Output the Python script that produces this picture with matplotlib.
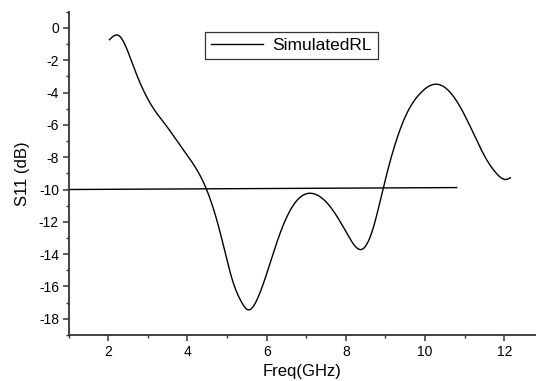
import numpy as np
import matplotlib
matplotlib.use('Agg')
import matplotlib.pyplot as plt
from matplotlib.ticker import MultipleLocator

# values
freq = [2.03, 2.26, 2.64, 3.06, 3.48, 3.9, 4.49, 4.83,
        5.16, 5.35, 5.54, 5.72, 5.92, 6.34, 6.77, 7.17,
        7.61, 8.03, 8.41, 8.7, 8.95, 9.54, 9.88,
        10.26, 10.72, 11.14, 11.56, 11.8, 12.03, 12.15]
s11 = [-0.73, -0.46, -2.4, -4.66, -6.1, -7.56, -10.04, -12.7,
       -15.8, -16.9, -17.45, -17.0, -15.8, -12.7, -10.66, -10.25,
       -11.08, -12.73, -13.7, -12.3, -9.84, -5.28, -4.04,
       -3.48, -4.25, -6.1, -8.18, -9.0, -9.38, -9.28]
ref_x = [1.0, 10.8]
ref_y = [-10.0, -9.88]


def spline(x, y, xs):
    # natural cubic spline through the read points
    x = np.asarray(x, float)
    y = np.asarray(y, float)
    n = len(x)
    h = np.diff(x)
    A = np.zeros((n, n))
    b = np.zeros(n)
    A[0, 0] = A[-1, -1] = 1
    for i in range(1, n - 1):
        A[i, i - 1] = h[i - 1]
        A[i, i] = 2 * (h[i - 1] + h[i])
        A[i, i + 1] = h[i]
        b[i] = 6 * ((y[i + 1] - y[i]) / h[i] - (y[i] - y[i - 1]) / h[i - 1])
    M = np.linalg.solve(A, b)
    idx = np.clip(np.searchsorted(x, xs) - 1, 0, n - 2)
    t0 = x[idx]
    t1 = x[idx + 1]
    hh = t1 - t0
    return (M[idx] * (t1 - xs) ** 3 / (6 * hh) + M[idx + 1] * (xs - t0) ** 3 / (6 * hh)
            + (y[idx] / hh - M[idx] * hh / 6) * (t1 - xs)
            + (y[idx + 1] / hh - M[idx + 1] * hh / 6) * (xs - t0))


plt.rcParams['font.family'] = ['Liberation Sans', 'DejaVu Sans']
plt.rcParams['axes.unicode_minus'] = False

fig = plt.figure(figsize=(5.36, 3.81), dpi=100)
ax = fig.add_axes([0.128, 0.121, 0.872, 0.848])

xs = np.linspace(freq[0], freq[-1], 800)
ax.plot(xs, spline(freq, s11, xs), color='black', lw=1.0, label='SimulatedRL')
ax.plot(ref_x, ref_y, color='black', lw=1.0)

ax.set_xlim(1, 12.8)
ax.set_ylim(-19, 1)
ax.set_xticks([2, 4, 6, 8, 10, 12])
ax.xaxis.set_minor_locator(MultipleLocator(1))
ax.yaxis.set_major_locator(MultipleLocator(2))
ax.yaxis.set_minor_locator(MultipleLocator(1))

for s in ['top', 'right']:
    ax.spines[s].set_visible(False)
for s in ['left', 'bottom']:
    ax.spines[s].set_linewidth(1.3)
    ax.spines[s].set_color('#333333')

ax.tick_params(which='major', direction='out', length=4, width=1.1, labelsize=10, color='#333333', pad=3)
ax.tick_params(which='minor', direction='out', length=2.5, width=1.0, color='#333333')

ax.set_xlabel('Freq(GHz)', fontsize=12, labelpad=4)
ax.set_ylabel('S11 (dB)', fontsize=12, labelpad=6)

leg = ax.legend(loc='upper left', bbox_to_anchor=(0.292, 0.937), borderaxespad=0,
                fancybox=False, edgecolor='#333333', framealpha=1, fontsize=12.5,
                handlelength=3.0, borderpad=0.35, handletextpad=0.5)
leg.get_frame().set_linewidth(0.9)

fig.savefig('out.png', dpi=100)
